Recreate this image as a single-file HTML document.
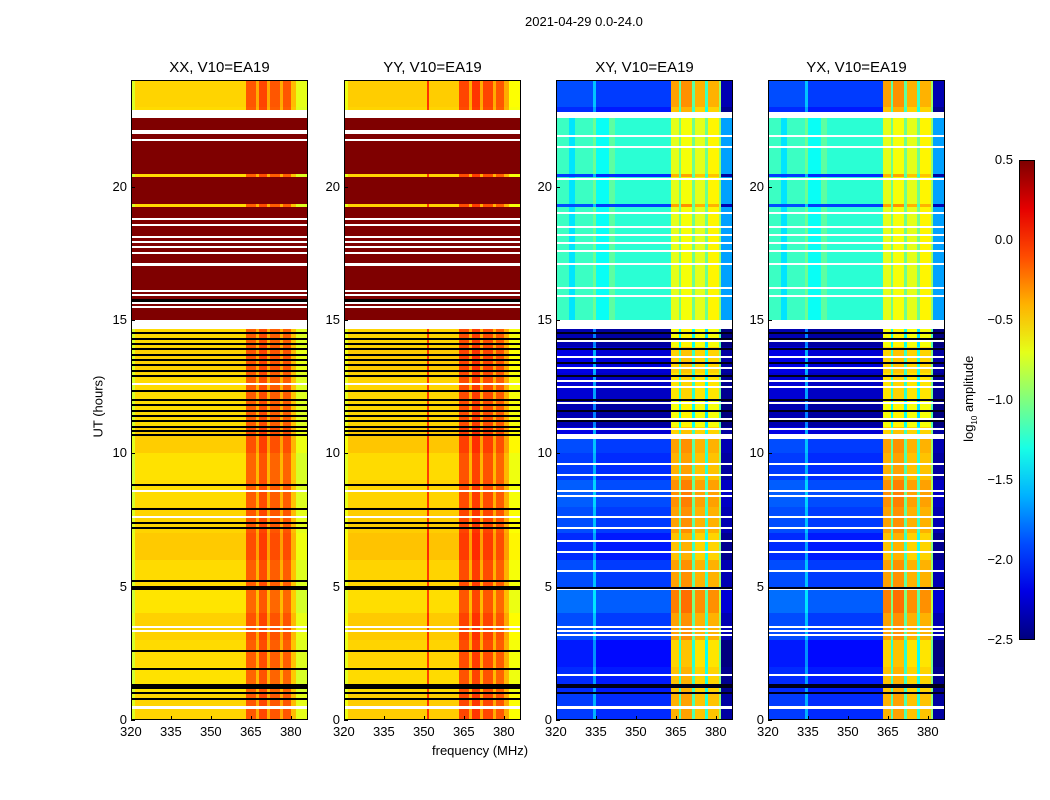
<!DOCTYPE html>
<html><head><meta charset="utf-8">
<style>
body{margin:0;background:#fff;width:1050px;height:800px;position:relative;overflow:hidden;font-family:"Liberation Sans",sans-serif;}
.t{position:absolute;font-size:13px;color:#000;white-space:nowrap}
.ttl{position:absolute;font-size:15px;white-space:nowrap;transform:translateX(-50%)}
canvas{position:absolute;image-rendering:pixelated;}
.frame{position:absolute;border:1px solid #000;box-sizing:border-box;pointer-events:none}
</style></head>
<body>
<div class="t" style="left:525px;top:14px;">2021-04-29 0.0-24.0</div>
<div class="t" style="left:432px;top:743px;">frequency (MHz)</div>
<div class="t" style="left:60px;top:392px;transform:rotate(-90deg);transform-origin:center;width:76px;">UT (hours)</div>
<div id="root"></div>
<div style="position:absolute;left:1019px;top:160px;width:16px;height:480px;border:1px solid #000;box-sizing:border-box;" id="cbar"></div>
<div class="t" style="left:920px;top:390px;transform:rotate(-90deg);width:100px;text-align:center;">log<sub style="font-size:8px">10</sub> amplitude</div>
<div id="cbt"></div>
<script>
// ---- data ----
const panelNames=["XX, V10=EA19","YY, V10=EA19","XY, V10=EA19","YX, V10=EA19"];
const panelLeft=[131,344,556,768];
const xTicks=[320,335,350,365,380];
const yTicks=[0,5,10,15,20];
const cbTicks=[0.5,0.0,-0.5,-1.0,-1.5,-2.0,-2.5];
// piecewise frequency profiles [startMHz,endMHz,log10 amp]
const xxNormal=[[320,321.5,-0.75],[321.5,363,-0.52],[363,367,-0.15],[367,368,-0.4],[368,371,-0.1],[371,372,-0.4],[372,376,-0.15],[376,377,-0.4],[377,380,-0.15],[380,382,-0.45],[382,387,-0.72]];
const yyNormal=[[320,321.5,-0.7],[321.5,351,-0.5],[351,352,-0.05],[352,363,-0.5],[363,367,-0.1],[367,368,-0.4],[368,371,-0.05],[371,372,-0.4],[372,376,-0.1],[376,377,-0.4],[377,380,-0.15],[380,382,-0.4],[382,387,-0.65]];
const xyNormal=[[320,334,-2.0],[334,335,-1.65],[335,363,-2.05],[363,366,-0.45],[366,367,-1.2],[367,371,-0.4],[371,372,-1.2],[372,376,-0.5],[376,377,-1.3],[377,381,-0.5],[381,382,-1.0],[382,387,-2.45]];
const xyDark=[[320,334,-2.3],[334,335,-1.7],[335,363,-2.35],[363,366,-0.6],[366,367,-1.3],[367,371,-0.55],[371,372,-1.3],[372,376,-0.6],[376,377,-1.4],[377,381,-0.6],[381,382,-1.1],[382,387,-2.5]];
const xyHigh=[[320,325,-1.2],[325,327,-1.45],[327,334,-1.2],[334,335,-1.05],[335,340,-1.35],[340,342,-1.1],[342,363,-1.25],[363,366,-0.7],[366,367,-1.05],[367,371,-0.65],[371,372,-1.05],[372,376,-0.7],[376,377,-1.05],[377,381,-0.6],[381,382,-0.95],[382,387,-1.65]];
const xxHigh=[[320,387,1.2]];
// time segments [startH,endH,state]
const segStart=[0,10.72,15.0,19.25,19.35,20.37,20.47,22.6];
const segEnd=[10.72,15.0,19.25,19.35,20.37,20.47,22.6,24];
const segState=["N","D","H","N","H","N","H","N"];
// flagged rows (hours)
const whiteFlags=[22.62,22.68,22.75,22.82,22.1,22.0,21.75,18.8,18.55,18.1,17.93,17.75,17.5,17.05,17.1,16.1,15.95,15.62,15.47,12.6,8.6,7.6,3.5,3.35,0.5,0.45];
const blackFlags=[15.75,15.7,14.5,14.3,14.1,13.9,13.7,13.5,13.3,13.1,12.9,12.35,12.0,11.8,11.6,11.4,11.2,11.0,10.85,8.8,7.9,7.4,7.2,5.2,5.0,4.9,2.6,1.9,1.3,1.25,1.2,1.0,0.8];
const whiteBands=[[14.65,15.0],[10.55,10.72]];
const xyWhiteFlags=[14.2,13.6,13.2,12.7,12.5,11.9,11.3,10.9,10.65,9.6,9.2,8.6,8.4,7.6,7.2,6.7,6.3,5.6,4.9,3.5,3.35,3.2,1.7,0.5,0.45,22.62,22.7,22.78,21.9,21.5,20.3,19.0,18.5,18.2,17.9,17.6,17.1,16.2,15.9];
const xyDarkFlags=[14.5,14.3,13.9,13.4,12.9,12.0,11.6,11.2,4.95,1.3,1.25,1.0];
// hourly brightness offsets
const xxHourOff=[0.02,-0.02,0.0,0.03,-0.03,0.0,0.05,0.02,0.0,-0.02,0.04,0,0,0.03,0,0,0,0,0,0,0,0,0,0.02];
const xyHourOff=[0.05,0.0,-0.05,0.1,0.2,0.1,0.0,0.1,0.15,0.05,0.1,-0.05,0.05,0.1,-0.05,0,0,0.05,0,0.1,0.05,0,0,0.1];
// ---- rendering ----
const F0=320,F1=386.4,T1=24,W=177,H=640,TOP=80;
function xs(f){return (f-F0)/(F1-F0)*W;}
function ys(t){return TOP+H-(t/T1)*H;}
function jet(v){let x=(v+2.5)/3;x=Math.max(0,Math.min(1,x));
 const r=Math.max(0,Math.min(1,1.5-Math.abs(4*x-3))),g=Math.max(0,Math.min(1,1.5-Math.abs(4*x-2))),b=Math.max(0,Math.min(1,1.5-Math.abs(4*x-1)));
 return [r*255|0,g*255|0,b*255|0];}
function prof(p,f){for(const s of p){if(f>=s[0]&&f<s[1])return s[2];}return p[p.length-1][2];}
const NX=177,NY=640;
const root=document.getElementById('root');
for(let p=0;p<4;p++){
 const cross=p>=2;
 const cv=document.createElement('canvas');cv.width=NX;cv.height=NY;
 cv.style.left=panelLeft[p]+'px';cv.style.top=TOP+'px';cv.style.width=W+'px';cv.style.height=H+'px';
 
 
 root.appendChild(cv);
 const ctx=cv.getContext('2d');const img=ctx.createImageData(NX,NY);
 for(let r=0;r<NY;r++){const t=(NY-1-r+0.5)*T1/NY;
  let st="N";for(let i=0;i<segStart.length;i++)if(t>=segStart[i]&&t<segEnd[i])st=segState[i];
  const ho=(cross?xyHourOff:xxHourOff)[Math.min(23,Math.floor(t))];
  for(let c=0;c<NX;c++){const f=F0+(c+0.5)*(F1-F0)/NX;let v;
   if(!cross){v=st==="H"?prof(xxHigh,f):prof(p==0?xxNormal:yyNormal,f)+ho;}
   else{v=st==="H"?prof(xyHigh,f):st==="D"?prof(xyDark,f)+ho:prof(xyNormal,f)+ho;}
   const col=jet(v);const k=(r*NX+c)*4;img.data[k]=col[0];img.data[k+1]=col[1];img.data[k+2]=col[2];img.data[k+3]=255;}}
 ctx.putImageData(img,0,0);
 const sy=NY/T1;
 function line(t,color){ctx.fillStyle=color;ctx.fillRect(0,Math.round((T1-t)*sy)-1,NX,2);}
 if(!cross){whiteFlags.forEach(t=>line(t,'#fff'));blackFlags.forEach(t=>line(t,'#000'));}
 else{xyWhiteFlags.forEach(t=>line(t,'#fff'));xyDarkFlags.forEach(t=>line(t,'#000016'));}
 whiteBands.forEach((b,i)=>{if(i==1&&!cross){ctx.fillStyle='#000';ctx.fillRect(0,Math.round((T1-b[1])*sy),NX,2);}else{ctx.fillStyle='#fff';ctx.fillRect(0,Math.round((T1-b[1])*sy),NX,Math.round((b[1]-b[0])*sy));}});
 const fr=document.createElement('div');fr.className='frame';
 
 
 fr.style.left=panelLeft[p]+'px';fr.style.top=TOP+'px';fr.style.width=W+'px';fr.style.height=H+'px';root.appendChild(fr);
 const tl=document.createElement('div');tl.className='ttl';tl.textContent=panelNames[p];
 
 
 tl.style.left=(panelLeft[p]+W/2)+'px';tl.style.top='59px';root.appendChild(tl);
 xTicks.forEach(f=>{const d=document.createElement('div');d.className='t';d.textContent=f;
  
  
  d.style.left=(panelLeft[p]+xs(f)-11)+'px';d.style.top='724px';root.appendChild(d);
  const tk=document.createElement('div');tk.style.cssText='position:absolute;width:1px;height:4px;background:#000;left:'+(panelLeft[p]+xs(f))+'px;top:716px';
  
  
  root.appendChild(tk);});
 yTicks.forEach(t=>{const d=document.createElement('div');d.className='t';d.textContent=t;
  
  
  d.style.left=(panelLeft[p]-28)+'px';d.style.width='24px';d.style.textAlign='right';d.style.top=(ys(t)-8)+'px';root.appendChild(d);
  const tk=document.createElement('div');tk.style.cssText='position:absolute;width:4px;height:1px;background:#000;left:'+panelLeft[p]+'px;top:'+ys(t)+'px';
  
  
  root.appendChild(tk);});
}
const cb=document.getElementById('cbar');
cb.style.background='linear-gradient(to top,'+[0,0.1,0.2,0.3,0.4,0.5,0.6,0.7,0.8,0.9,1].map(x=>{const c=jet(-2.5+3*x);return 'rgb('+c.join(',')+') '+(x*100)+'%';}).join(',')+')';
const cbt=document.getElementById('cbt');
cbTicks.forEach(v=>{const d=document.createElement('div');d.className='t';d.textContent=(v<0?'\u2212':'')+Math.abs(v).toFixed(1);
 
 
 d.style.left='970px';d.style.width='43px';d.style.textAlign='right';d.style.top=(160+(0.5-v)/3*480-8)+'px';cbt.appendChild(d);});
</script>
</body></html>
